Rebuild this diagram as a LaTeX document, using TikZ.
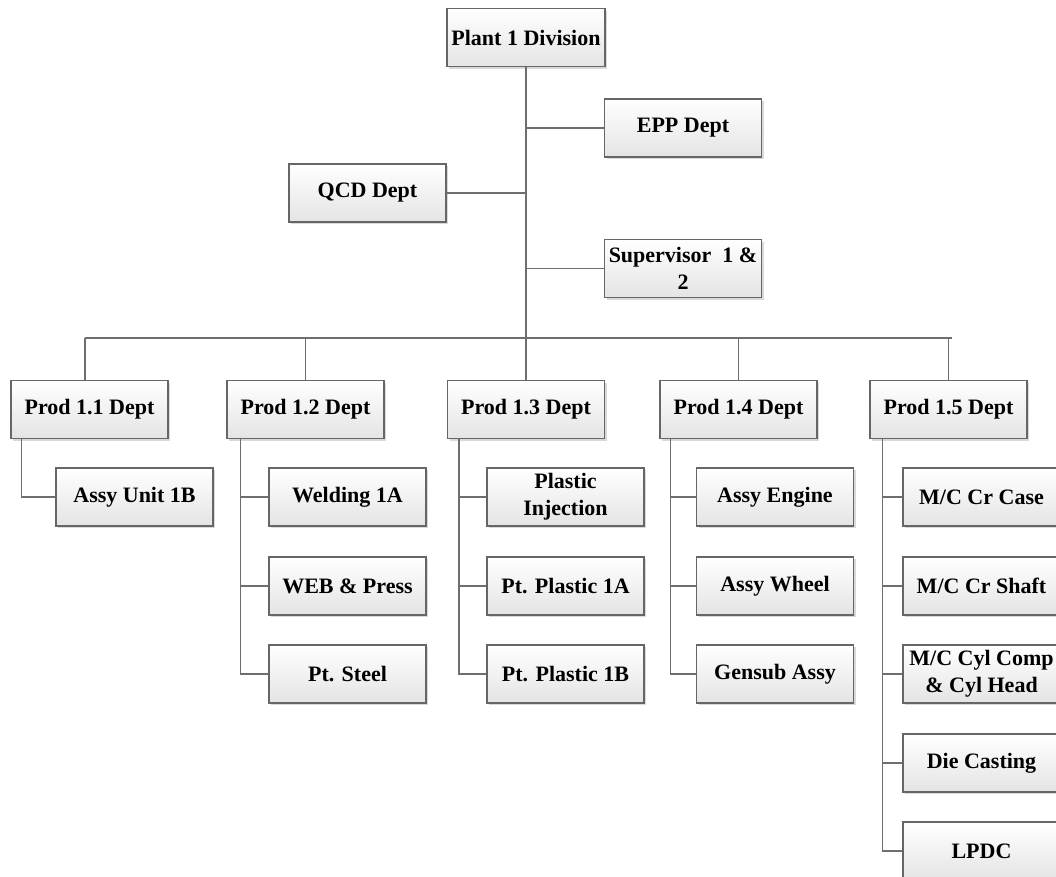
\documentclass[tikz,border=0pt]{standalone}
\usepackage{fontspec}
\setmainfont{Liberation Serif}
\usetikzlibrary{shadows}
\definecolor{edgegray}{HTML}{666666}
\definecolor{linegray}{HTML}{6E6E6E}
\definecolor{fillbot}{HTML}{E4E4E4}
\begin{document}
\begin{tikzpicture}[x=0.75pt,y=-0.75pt,
  unitbox/.style={draw=edgegray, line width=0.8pt, top color=white, bottom color=fillbot,
    minimum width=117.75pt, minimum height=43.5pt, inner sep=0pt, align=center,
    font=\bfseries\fontsize{16.5}{20}\selectfont,
    drop shadow={shadow xshift=1.6pt, shadow yshift=-1.6pt, fill=black!25, opacity=0.6}},
  link/.style={draw=linegray, line width=0.85pt}]
\useasboundingbox (0,0) rectangle (1056,877);
\clip (0,0) rectangle (1056,877);

% top of the organisation
\node[unitbox, minimum width=118.5pt] (plant) at (526,37.5) {Plant 1 Division};
\node[unitbox] (epp) at (683,128) {EPP Dept};
\node[unitbox] (qcd) at (367.5,193) {QCD Dept};
\node[unitbox] (sup) at (683,268.5) {Supervisor\ \ 1 \&\\2};

% production departments
\node[unitbox] (p1) at (89.5,409.5) {Prod 1.1 Dept};
\node[unitbox] (p2) at (305.5,409.5) {Prod 1.2 Dept};
\node[unitbox] (p3) at (526,409.5) {Prod 1.3 Dept};
\node[unitbox] (p4) at (738.5,409.5) {Prod 1.4 Dept};
\node[unitbox] (p5) at (948.5,409.5) {Prod 1.5 Dept};

% units under each department
\node[unitbox] (c11) at (134.5,497) {Assy Unit 1B};

\node[unitbox] (c21) at (347.5,497) {Welding 1A};
\node[unitbox] (c22) at (347.5,586) {WEB \& Press};
\node[unitbox] (c23) at (347.5,674) {Pt. Steel};

\node[unitbox] (c31) at (565.5,497) {Plastic\\Injection};
\node[unitbox] (c32) at (565.5,586) {Pt. Plastic 1A};
\node[unitbox] (c33) at (565.5,674) {Pt. Plastic 1B};

\node[unitbox] (c41) at (775,497) {Assy Engine};
\node[unitbox] (c42) at (775,586) {Assy Wheel};
\node[unitbox] (c43) at (775,674) {Gensub Assy};

\node[unitbox] (c51) at (981.5,497) {M/C Cr Case};
\node[unitbox] (c52) at (981.5,586) {M/C Cr Shaft};
\node[unitbox] (c53) at (981.5,674) {M/C Cyl Comp\\\& Cyl Head};
\node[unitbox] (c54) at (981.5,763) {Die Casting};
\node[unitbox] (c55) at (981.5,851) {LPDC};

% trunk and side branches
\coordinate (busL) at (85,338);
\coordinate (busR) at (952,338);
\draw[link] (plant.south) -- (plant.south |- busL);
\draw[link] (epp.west) -- (epp.west -| plant.south);
\draw[link] (qcd.east) -- (qcd.east -| plant.south);
\draw[link] (sup.west) -- (sup.west -| plant.south);

% horizontal bus with drops
\draw[link] (busL) -- (busR);
\draw[link] (busL) -- (busL |- p1.north);
\draw[link] (p2.north |- busL) -- (p2.north);
\draw[link] (p3.north |- busL) -- (p3.north);
\draw[link] (p4.north |- busL) -- (p4.north);
\draw[link] (p5.north |- busL) -- (p5.north);

% department spines
\coordinate (v1) at ([xshift=8.25pt]p1.south west);
\coordinate (v2) at ([xshift=10.5pt]p2.south west);
\coordinate (v3) at ([xshift=9pt]p3.south west);
\coordinate (v4) at ([xshift=8.25pt]p4.south west);
\coordinate (v5) at ([xshift=9.75pt]p5.south west);

\draw[link] (v1) |- (c11.west);

\draw[link] (v2) |- (c23.west);
\draw[link] (c21.west) -- (c21.west -| v2);
\draw[link] (c22.west) -- (c22.west -| v2);

\draw[link] (v3) |- (c33.west);
\draw[link] (c31.west) -- (c31.west -| v3);
\draw[link] (c32.west) -- (c32.west -| v3);

\draw[link] (v4) |- (c43.west);
\draw[link] (c41.west) -- (c41.west -| v4);
\draw[link] (c42.west) -- (c42.west -| v4);

\draw[link] (v5) |- (c55.west);
\draw[link] (c51.west) -- (c51.west -| v5);
\draw[link] (c52.west) -- (c52.west -| v5);
\draw[link] (c53.west) -- (c53.west -| v5);
\draw[link] (c54.west) -- (c54.west -| v5);
\end{tikzpicture}
\end{document}
